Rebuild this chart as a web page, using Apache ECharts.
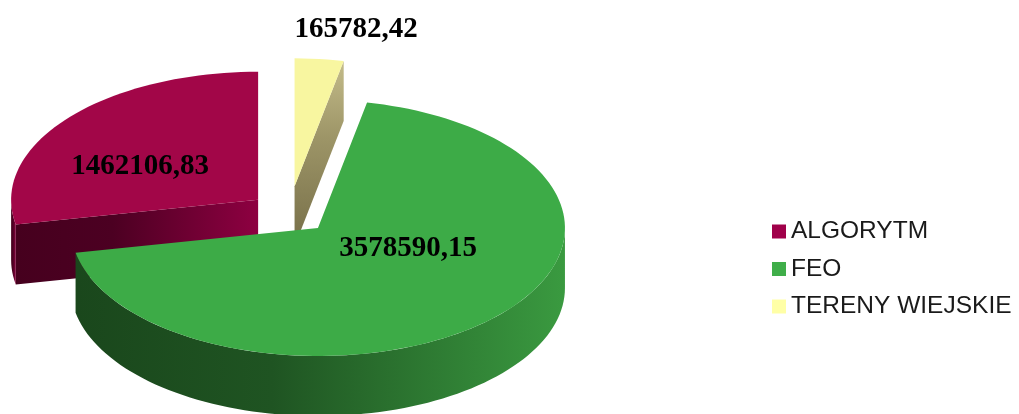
<!DOCTYPE html>
<html>
<head>
<meta charset="utf-8">
<script src="https://cdn.jsdelivr.net/npm/echarts@6/dist/echarts.min.js"></script>
<style>
  html, body { margin: 0; padding: 0; background: #fff; }
  #chart { width: 1019px; height: 414px; }
</style>
</head>
<body>
<div id="chart"></div>
<script>
// data
const categories = ['ALGORYTM', 'FEO', 'TERENY WIEJSKIE'];
const values = [1462106.83, 3578590.15, 165782.42];

// styles
const legendColors = ['#a0004a', '#3fae49', '#ffffa6'];
const topColors = ['#a20648', '#3dab47', '#f8f6a0'];
const sideColors = [
  ['#46001e', '#4c0022', '#8e0041'],
  ['#1a471c', '#1f5422', '#3a9a40'],
  ['#c4bc8a', '#9e9668', '#766e48']
];
const drawOrder = [2, 3, 1]; // z per slice: back slices first

// layout of the tilted pie
const CX = 289.4, CY = 213.1;      // pie centre
const RX = 247, RY = 128;          // ellipse radii of top face
const DEPTH = 60;                  // thickness
const explode = [0.164, 0.164, 0.21]; // offset of each slice, share of radius
const labelPos = [[0.543, 151.6], [0.40, 336], [1.25, 78.5]]; // [radius share, angle]

const total = values.reduce((a, b) => a + b, 0);

function pt(cx, cy, a, r, dy) {
  const t = a * Math.PI / 180;
  return [cx + RX * r * Math.cos(t), cy - RY * r * Math.sin(t) + (dy || 0)];
}

function arc(cx, cy, s, e, dy) {
  const n = Math.max(2, Math.ceil(Math.abs(e - s) / 2));
  const pts = [];
  for (let j = 0; j <= n; j++) pts.push(pt(cx, cy, s + (e - s) * j / n, 1, dy));
  return pts;
}

function gradient(i, vertical) {
  const c = sideColors[i];
  return new echarts.graphic.LinearGradient(0, 0, vertical ? 0 : 1, vertical ? 1 : 0, [
    { offset: 0, color: c[0] },
    { offset: 0.4, color: c[1] },
    { offset: 1, color: c[2] }
  ]);
}

function renderSlice(params, api) {
  const i = params.seriesIndex;
  const v = api.value(0);
  let cum = 0;
  for (let k = 0; k < i; k++) cum += values[k];
  const a0 = 90 + 360 * cum / total;
  const a1 = a0 + 360 * v / total;
  const mid = (a0 + a1) / 2;
  const apex = pt(CX, CY, mid, explode[i]);
  const cx = apex[0], cy = apex[1];
  const sideFill = gradient(i, false);
  const children = [];

  // front part of the outer wall
  [[180, 360], [540, 720]].forEach(function (r) {
    const s = Math.max(a0, r[0]), e = Math.min(a1, r[1]);
    if (e > s) {
      const pts = arc(cx, cy, s, e, 0).concat(arc(cx, cy, e, s, DEPTH));
      children.push({ type: 'polygon', shape: { points: pts }, style: { fill: sideFill } });
    }
  });

  // cut faces that face the viewer
  function cutFace(a) {
    const o = pt(cx, cy, a, 1);
    const pts = [[cx, cy], o, [o[0], o[1] + DEPTH], [cx, cy + DEPTH]];
    const fill = i === 2 ? gradient(i, true) : sideFill;
    children.push({ type: 'polygon', shape: { points: pts }, style: { fill: fill } });
  }
  if (Math.cos(a0 * Math.PI / 180) > 0.001) cutFace(a0);
  if (Math.cos(a1 * Math.PI / 180) < -0.001) cutFace(a1);

  // top face
  children.push({
    type: 'polygon',
    shape: { points: [[cx, cy]].concat(arc(cx, cy, a0, a1, 0)) },
    style: { fill: topColors[i] }
  });

  // value label
  const lp = pt(cx, cy, labelPos[i][1], labelPos[i][0]);
  children.push({
    type: 'text',
    x: lp[0], y: lp[1],
    style: {
      text: v.toFixed(2).replace('.', ','),
      fontFamily: 'Liberation Serif',
      fontWeight: 'bold',
      fontSize: 29,
      fill: '#000',
      align: 'center',
      verticalAlign: 'middle'
    }
  });

  return { type: 'group', children: children };
}

const chart = echarts.init(document.getElementById('chart'));
chart.setOption({
  animation: false,
  legend: {
    orient: 'vertical',
    left: 767,
    top: 214,
    icon: 'rect',
    itemWidth: 14,
    itemHeight: 14,
    itemGap: 12.5,
    selectedMode: false,
    textStyle: { fontFamily: 'Liberation Sans', fontSize: 24.5, color: '#1a1a1a' },
    data: categories
  },
  series: categories.map(function (name, i) {
    return {
      type: 'custom',
      name: name,
      coordinateSystem: 'none',
      z: drawOrder[i],
      silent: true,
      itemStyle: { color: legendColors[i] },
      renderItem: renderSlice,
      data: [[values[i]]]
    };
  })
});
</script>
</body>
</html>
